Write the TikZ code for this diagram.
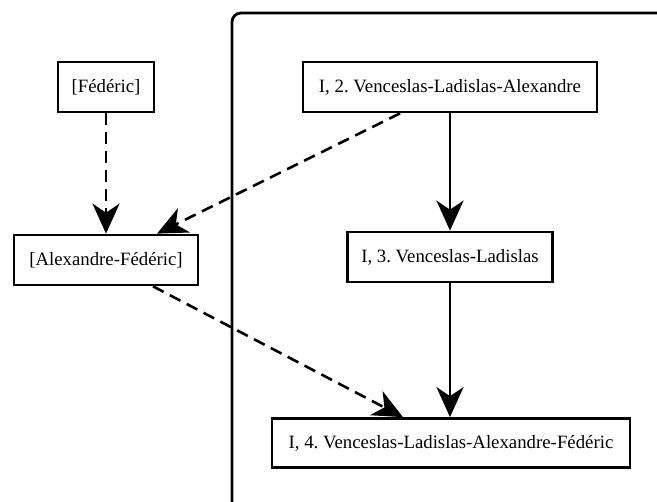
\documentclass[tikz,border=0pt]{standalone}
\usepackage{fontspec}
\setmainfont{Liberation Serif}
\usetikzlibrary{arrows.meta}
\frenchspacing
\begin{document}
\begin{tikzpicture}[x=1pt,y=-1pt,
  box/.style={draw, line width=2.7pt, inner sep=0pt, font=\fontsize{18.8}{22}\selectfont},
  conn/.style={line width=2.6pt, -{Stealth[length=30pt,width=27pt,inset=9pt]}},
  dconn/.style={conn, dash pattern=on 12pt off 7pt}]
\useasboundingbox (0,0) rectangle (657,502);
\begin{scope}
\clip (0,0) rectangle (657,502);
\draw[line width=2.8pt, rounded corners=9pt] (232,13) rectangle (720,560);
\end{scope}
\node[box, minimum width=96pt, minimum height=50pt] (fed) at (106,87) {[Fédéric]};
\node[box, minimum width=184pt, minimum height=50pt] (af) at (106,260) {[Alexandre-Fédéric]};
\node[box, minimum width=294pt, minimum height=50pt] (i2) at (450,87) {I, 2. Venceslas-Ladislas-Alexandre};
\node[box, minimum width=205pt, minimum height=50pt] (i3) at (450,257) {I, 3. Venceslas-Ladislas};
\node[box, minimum width=358pt, minimum height=49pt] (i4) at (451,443) {I, 4. Venceslas-Ladislas-Alexandre-Fédéric};
\draw[dconn] (fed.south) -- (af.north);
\draw[dconn] (i2.south -| 400,0) -- (af.north -| 157,0);
\draw[dconn] (af.south -| 153,0) -- (i4.north -| 403,0);
\draw[conn] (i2.south) -- (i3.north);
\draw[conn] (i3.south) -- (i4.north -| i3.south);
\end{tikzpicture}
\end{document}
